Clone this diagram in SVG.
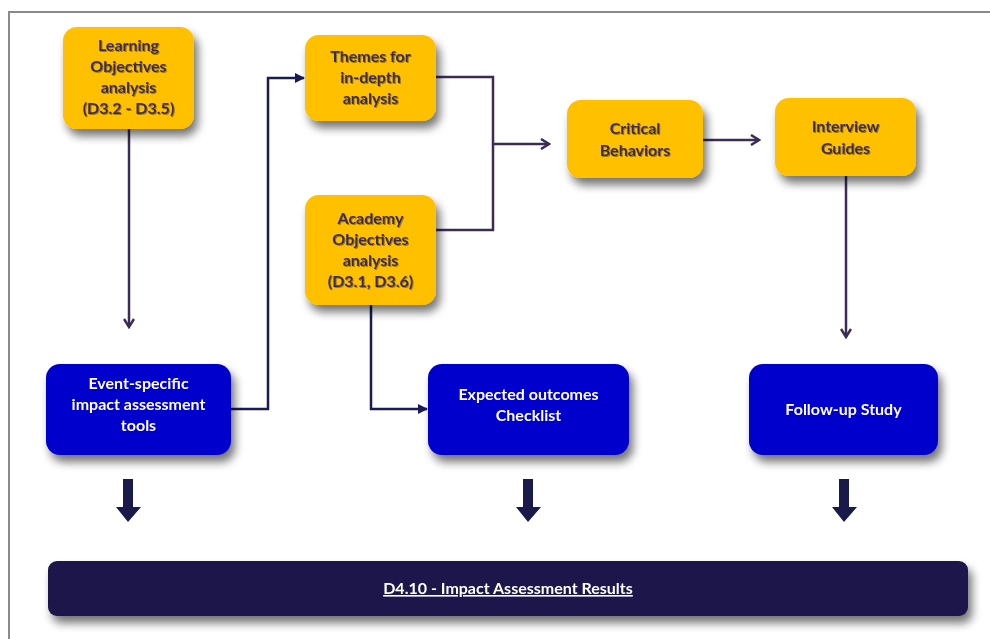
<svg xmlns="http://www.w3.org/2000/svg" width="990" height="639" viewBox="0 0 990 639">
  <style>
    .gold { fill: #FFC000; }
    .blue { fill: #0000CC; }
    .bar { fill: #1A154B; }
    .dark { font-family: Lato, "Open Sans", sans-serif; font-weight: 700; font-size: 16px; fill: #3B2C55; text-anchor: middle; }
    .light { font-family: Lato, "Open Sans", sans-serif; font-weight: 700; font-size: 16px; fill: #FFFFFF; text-anchor: middle; }
    .line { fill: none; stroke: #3B2C55; stroke-width: 2.5; }
    .navy { fill: none; stroke: #1A1A55; stroke-width: 2.5; }
    .big { fill: #1A1A4A; }
  </style>
  <defs>
    <filter id="shadow" x="-20%" y="-20%" width="150%" height="170%">
      <feGaussianBlur in="SourceAlpha" stdDeviation="5"/>
      <feOffset dx="4" dy="7"/>
      <feComponentTransfer><feFuncA type="linear" slope="0.55"/></feComponentTransfer>
      <feMerge><feMergeNode/><feMergeNode in="SourceGraphic"/></feMerge>
    </filter>
    <filter id="tshadow" x="-10%" y="-10%" width="130%" height="140%">
      <feGaussianBlur in="SourceAlpha" stdDeviation="0.6"/>
      <feOffset dx="1" dy="1.2"/>
      <feComponentTransfer><feFuncA type="linear" slope="0.35"/></feComponentTransfer>
      <feMerge><feMergeNode/><feMergeNode in="SourceGraphic"/></feMerge>
    </filter>
    <marker id="open" viewBox="0 0 12 12" refX="10" refY="6" markerWidth="12" markerHeight="12" markerUnits="userSpaceOnUse" orient="auto">
      <path d="M2,1 L10,6 L2,11" fill="none" stroke="#3B2C55" stroke-width="2.5"/>
    </marker>
    <marker id="solid" viewBox="0 0 10 10" refX="9" refY="5" markerWidth="10" markerHeight="10" markerUnits="userSpaceOnUse" orient="auto">
      <path d="M0,0 L10,5 L0,10 Z" fill="#1A1A55"/>
    </marker>
  </defs>

  <rect width="990" height="639" fill="#FFFFFF"/>
  <!-- frame edges -->
  <path d="M9,639 V12 H990" fill="none" stroke="#8A8A8A" stroke-width="2"/>

  <g id="connectors">
    <path class="line" d="M129,129 V327" marker-end="url(#open)"/>
    <path class="navy" d="M231,409 H268 V78 H304" marker-end="url(#solid)"/>
    <path class="line" d="M436,77 H493 V230 H436"/>
    <path class="line" d="M493,144 H549" marker-end="url(#open)"/>
    <path class="line" d="M703,140 H759" marker-end="url(#open)"/>
    <path class="line" d="M846,176 V337" marker-end="url(#open)"/>
    <path class="navy" d="M371,305 V409 H427" marker-end="url(#solid)"/>
    <path class="big" d="M123,479 H133 V507 H141 L128,522 L116,507 H123 Z"/>
    <path class="big" d="M523,479 H533 V507 H541 L528,522 L516,507 H523 Z"/>
    <path class="big" d="M839,479 H849 V507 H857 L844,522 L832,507 H839 Z"/>
  </g>

  <g id="learning" filter="url(#shadow)">
    <rect class="gold" x="63" y="27" width="131" height="102" rx="14"/>
    <g filter="url(#tshadow)">
      <text class="dark" x="128.5" y="51">Learning</text>
      <text class="dark" x="128.5" y="72">Objectives</text>
      <text class="dark" x="128.5" y="93">analysis</text>
      <text class="dark" x="128.5" y="114">(D3.2 - D3.5)</text>
    </g>
  </g>

  <g id="themes" filter="url(#shadow)">
    <rect class="gold" x="305" y="35" width="131" height="86" rx="14"/>
    <g filter="url(#tshadow)">
      <text class="dark" x="370.5" y="62">Themes for</text>
      <text class="dark" x="370.5" y="83">in-depth</text>
      <text class="dark" x="370.5" y="104">analysis</text>
    </g>
  </g>

  <g id="academy" filter="url(#shadow)">
    <rect class="gold" x="305" y="195" width="131" height="110" rx="14"/>
    <g filter="url(#tshadow)">
      <text class="dark" x="370.5" y="224">Academy</text>
      <text class="dark" x="370.5" y="245">Objectives</text>
      <text class="dark" x="370.5" y="266">analysis</text>
      <text class="dark" x="370.5" y="287">(D3.1, D3.6)</text>
    </g>
  </g>

  <g id="critical" filter="url(#shadow)">
    <rect class="gold" x="567" y="100" width="136" height="78" rx="14"/>
    <g filter="url(#tshadow)">
      <text class="dark" x="635" y="134">Critical</text>
      <text class="dark" x="635" y="156">Behaviors</text>
    </g>
  </g>

  <g id="interview" filter="url(#shadow)">
    <rect class="gold" x="775" y="98" width="141" height="78" rx="14"/>
    <g filter="url(#tshadow)">
      <text class="dark" x="845.5" y="132">Interview</text>
      <text class="dark" x="845.5" y="154">Guides</text>
    </g>
  </g>

  <g id="event-tools" filter="url(#shadow)">
    <rect class="blue" x="46" y="364" width="185" height="91" rx="14"/>
    <text class="light" x="138.5" y="389">Event-specific</text>
    <text class="light" x="138.5" y="410">impact assessment</text>
    <text class="light" x="138.5" y="431">tools</text>
  </g>

  <g id="checklist" filter="url(#shadow)">
    <rect class="blue" x="428" y="364" width="201" height="91" rx="14"/>
    <text class="light" x="528.5" y="400">Expected outcomes</text>
    <text class="light" x="528.5" y="421">Checklist</text>
  </g>

  <g id="follow-up" filter="url(#shadow)">
    <rect class="blue" x="749" y="364" width="189" height="91" rx="14"/>
    <text class="light" x="843.5" y="415">Follow-up Study</text>
  </g>

  <g id="results" filter="url(#shadow)">
    <rect class="bar" x="48" y="561" width="920" height="55" rx="9"/>
    <text class="light" x="508" y="594" text-decoration="underline">D4.10 - Impact Assessment Results</text>
  </g>
</svg>
